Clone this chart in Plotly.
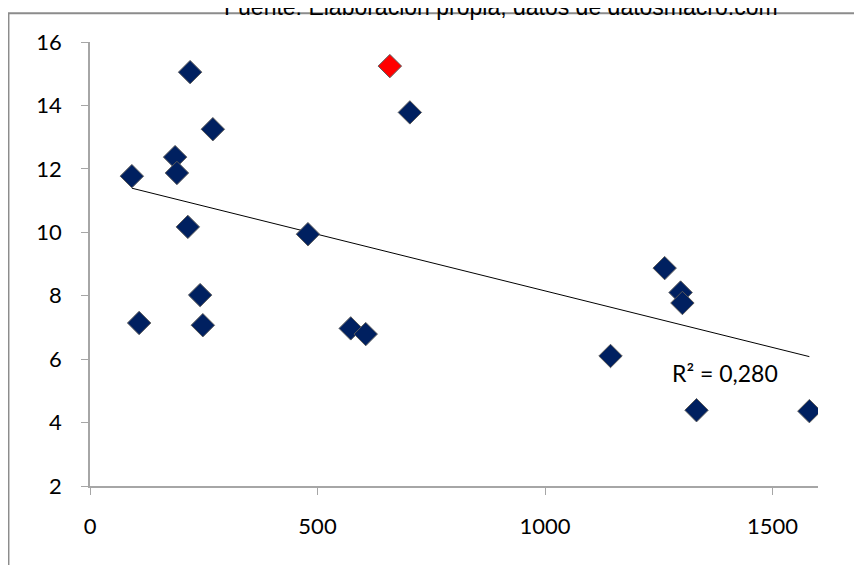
import plotly.graph_objects as go
import numpy as np

# datos
x_vals = [92, 108, 220, 187, 191, 215, 270, 242, 248, 479, 573, 606, 703,
          1144, 1263, 1298, 1302, 1333, 1581]
y_vals = [11.77, 7.14, 15.05, 12.37, 11.87, 10.17, 13.25, 8.02, 7.07, 9.94,
          6.97, 6.79, 13.78, 6.10, 8.87, 8.10, 7.77, 4.39, 4.36]
# punto destacado
x_red = [659]
y_red = [15.24]

title_text = "Fuente: Elaboración propia, datos de datosmacro.com"
r2_text = "R² = 0,280"

# linea de tendencia lineal
all_x = np.array(x_vals + x_red)
all_y = np.array(y_vals + y_red)
slope, intercept = np.polyfit(all_x, all_y, 1)
trend_x = np.array([all_x.min(), all_x.max()])
trend_y = slope * trend_x + intercept

fig = go.Figure()

fig.add_trace(go.Scatter(
    x=trend_x, y=trend_y, mode="lines",
    line=dict(color="black", width=1),
    hoverinfo="skip",
))
fig.add_trace(go.Scatter(
    x=x_vals, y=y_vals, mode="markers",
    marker=dict(symbol="diamond", size=18, color="#002060",
                line=dict(color="#5a5a5a", width=1)),
))
fig.add_trace(go.Scatter(
    x=x_red, y=y_red, mode="markers",
    marker=dict(symbol="diamond", size=18, color="#ff0000",
                line=dict(color="#5a5a5a", width=1)),
))

fig.add_annotation(
    x=1395, y=5.56, xref="x", yref="y", text=r2_text, showarrow=False,
    font=dict(family="Lato", size=23, color="black"),
)
fig.add_annotation(
    x=0.565, y=1.079, xref="paper", yref="paper", text=title_text,
    showarrow=False, xanchor="center", yanchor="middle",
    font=dict(family="Liberation Sans", size=23, color="black"),
)

# marco exterior del grafico
fig.add_shape(
    type="rect", xref="paper", yref="paper",
    x0=-0.112, x1=1.3, y0=-0.4, y1=1.065,
    line=dict(color="#8c8c8c", width=2),
)

fig.update_layout(
    width=862, height=565,
    margin=dict(l=82, r=52, t=34, b=87),
    paper_bgcolor="white", plot_bgcolor="white",
    showlegend=False,
    font=dict(family="Lato", size=22, color="black"),
)
fig.update_xaxes(
    range=[0, 1600], dtick=500, tick0=0,
    showgrid=False, zeroline=False,
    showline=True, linecolor="#a6a6a6", linewidth=1.5,
    ticks="outside", ticklen=7, tickcolor="#a6a6a6",
    ticklabelstandoff=13,
)
fig.update_yaxes(
    range=[2, 16], dtick=2, tick0=2,
    showgrid=False, zeroline=False,
    showline=True, linecolor="#a6a6a6", linewidth=1.5,
    ticks="outside", ticklen=7, tickcolor="#a6a6a6",
    ticklabelstandoff=15,
)

fig.write_html("out.html")
